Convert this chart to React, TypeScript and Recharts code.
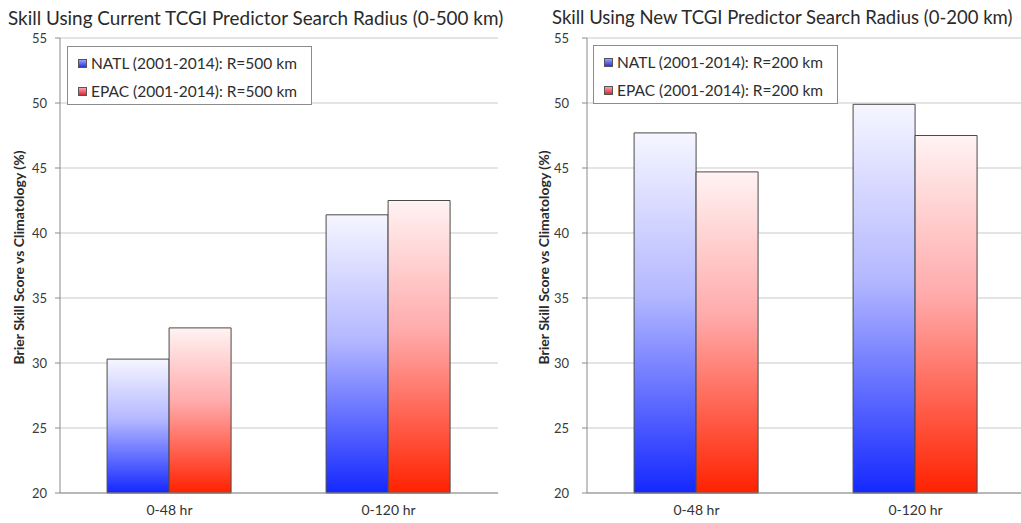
import { Bar, BarChart, CartesianGrid, Legend, XAxis, YAxis } from "recharts";

const categories = ["0-48 hr", "0-120 hr"];
const natlCurrent = [30.3, 41.4];
const epacCurrent = [32.7, 42.5];
const natlNew = [47.7, 49.9];
const epacNew = [44.7, 47.5];
const yTicks = [20, 25, 30, 35, 40, 45, 50, 55];
const seriesKeys = ["natl", "epac"];

const FONT = "Lato, 'Open Sans', sans-serif";
const markerBg: Record<string, string> = {
  natl: "linear-gradient(#9aa0ff, #2a36d8)",
  epac: "linear-gradient(#ffa0a8, #d8283a)",
};

type PanelProps = {
  id: string;
  title: string;
  natl: number[];
  epac: number[];
  natlName: string;
  epacName: string;
  left: number;
  width: number;
  axisWidth: number;
  tickGap: number;
  labelX: number;
  legendLeft: number;
  legendTop: number;
  titleLeft: number;
  titleSize: number;
  marginRight: number;
};

function AxisTitle({ viewBox, cx }: { viewBox?: { x: number; y: number; width: number; height: number }; cx: number }) {
  const vb = viewBox ?? { x: 0, y: 38, width: 60, height: 455 };
  const cy = vb.y + vb.height / 2 - 8;
  return (
    <text x={cx} y={cy} transform={`rotate(-90 ${cx} ${cy})`} textAnchor="middle" dominantBaseline="central" fill="#2a2a2a" fontSize={14} fontWeight={700} fontFamily={FONT}>
      Brier Skill Score vs Climatology (%)
    </text>
  );
}

// keep NATL above EPAC, whatever order the legend hands us
function PanelLegend({ payload }: { payload?: Array<{ value?: string; dataKey?: unknown }> }) {
  const items = seriesKeys
    .map((key) => (payload ?? []).find((entry) => entry.dataKey === key))
    .filter(Boolean) as Array<{ value?: string; dataKey?: unknown }>;
  return (
    <div style={{ width: 245, height: 59, boxSizing: "border-box", border: "1px solid #8c8c8c", background: "#fff", paddingTop: 2, paddingLeft: 10 }}>
      {items.map((entry) => (
        <div key={String(entry.dataKey)} style={{ display: "flex", alignItems: "center", height: 28, fontSize: 15.5, color: "#2e2e2e", fontFamily: FONT }}>
          <span style={{ width: 7, height: 7, border: "1px solid #555", background: markerBg[String(entry.dataKey)], marginRight: 4 }} />
          {entry.value}
        </div>
      ))}
    </div>
  );
}

function SkillPanel(p: PanelProps) {
  const data = categories.map((name, i) => ({ name, natl: p.natl[i], epac: p.epac[i] }));
  return (
    <div style={{ position: "absolute", left: p.left, top: 0, width: p.width, height: 523 }}>
      <div style={{ position: "absolute", left: p.titleLeft - p.left, top: 6, whiteSpace: "nowrap", fontSize: p.titleSize, color: "#2a2a2a", fontFamily: FONT }}>
        {p.title}
      </div>
      <BarChart width={p.width} height={523} data={data} margin={{ top: 38, right: p.marginRight, bottom: 0, left: 0 }} barGap={0} barCategoryGap="21.5%">
        <defs>
          <linearGradient id={`${p.id}-natl`} x1="0" y1="0" x2="0" y2="1">
            <stop offset="0%" stopColor="#f6f6ff" />
            <stop offset="45%" stopColor="#b4b8ff" />
            <stop offset="100%" stopColor="#1428ff" />
          </linearGradient>
          <linearGradient id={`${p.id}-epac`} x1="0" y1="0" x2="0" y2="1">
            <stop offset="0%" stopColor="#fff3f3" />
            <stop offset="45%" stopColor="#ffaaaa" />
            <stop offset="100%" stopColor="#ff2200" />
          </linearGradient>
        </defs>
        <CartesianGrid vertical={false} stroke="#c9c9c9" />
        <XAxis
          dataKey="name"
          height={30}
          tickLine={false}
          tickSize={0}
          tickMargin={12}
          axisLine={{ stroke: "#8a8a8a" }}
          tick={{ fill: "#333", fontSize: 14, fontFamily: FONT }}
        />
        <YAxis
          domain={[20, 55]}
          ticks={yTicks}
          interval={0}
          width={p.axisWidth}
          tickSize={5}
          tickMargin={p.tickGap}
          axisLine={{ stroke: "#8a8a8a" }}
          tickLine={{ stroke: "#8a8a8a" }}
          tick={{ fill: "#3a3a3a", fontSize: 13, fontFamily: FONT }}
          label={<AxisTitle cx={p.labelX} />}
        />
        <YAxis yAxisId="frame" orientation="right" width={0} domain={[20, 55]} tick={false} tickLine={false} axisLine={{ stroke: "#b5b5b5" }} />
        <Legend
          layout="vertical"
          align="center"
          verticalAlign="middle"
          wrapperStyle={{ left: p.legendLeft, top: p.legendTop, width: 245 }}
          content={<PanelLegend />}
        />
        <Bar dataKey="natl" name={p.natlName} fill={`url(#${p.id}-natl)`} stroke="#4a4a4a" strokeWidth={1} isAnimationActive={false} />
        <Bar dataKey="epac" name={p.epacName} fill={`url(#${p.id}-epac)`} stroke="#4a4a4a" strokeWidth={1} isAnimationActive={false} />
      </BarChart>
    </div>
  );
}

export default function App() {
  return (
    <div style={{ position: "absolute", left: 0, top: 0, width: 1021, height: 523, overflow: "hidden", background: "#fff" }}>
      <SkillPanel
        id="cur"
        title="Skill Using Current TCGI Predictor Search Radius (0-500 km)"
        natl={natlCurrent}
        epac={epacCurrent}
        natlName="NATL (2001-2014): R=500 km"
        epacName="EPAC (2001-2014): R=500 km"
        left={0}
        width={510}
        axisWidth={60}
        tickGap={8}
        labelX={18}
        legendLeft={67}
        legendTop={46}
        titleLeft={8}
        titleSize={18.9}
        marginRight={12}
      />
      <SkillPanel
        id="new"
        title="Skill Using New TCGI Predictor Search Radius (0-200 km)"
        natl={natlNew}
        epac={epacNew}
        natlName="NATL (2001-2014): R=200 km"
        epacName="EPAC (2001-2014): R=200 km"
        left={510}
        width={520}
        axisWidth={77}
        tickGap={13}
        labelX={33}
        legendLeft={83}
        legendTop={45}
        titleLeft={552}
        titleSize={18.5}
        marginRight={5}
      />
    </div>
  );
}
